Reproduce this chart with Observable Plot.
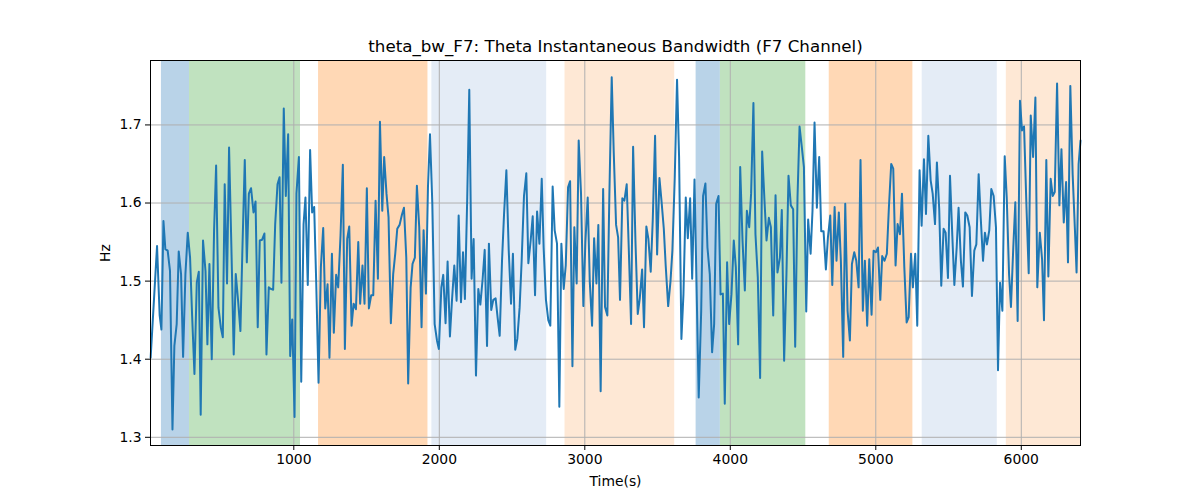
<!DOCTYPE html>
<html>
<head>
<meta charset="utf-8">
<script src="https://cdn.jsdelivr.net/npm/d3@7"></script>
<script src="https://cdn.jsdelivr.net/npm/@observablehq/plot@0.6"></script>
<style>
  html, body { margin: 0; padding: 0; background: #ffffff; }
  #chart { width: 1200px; height: 500px; }
</style>
</head>
<body>
<div id="chart"></div>
<script>
const title = "theta_bw_F7: Theta Instantaneous Bandwidth (F7 Channel)";
const xLabel = "Time(s)";
const yLabel = "Hz";
const xTicks = [1000, 2000, 3000, 4000, 5000, 6000];
const yTicks = [1.3, 1.4, 1.5, 1.6, 1.7];

const times = [
  16, 60, 78, 90, 104, 117, 133, 149, 166, 179, 195, 209, 225, 239, 255, 271, 287, 301, 317, 333,
  347, 360, 376, 393, 406, 420, 436, 452, 466, 482, 498, 512, 525, 541, 555, 571, 587, 601, 617, 633,
  647, 663, 677, 691, 706, 723, 737, 752, 766, 782, 798, 812, 828,
  842, 858, 872, 888, 902, 915, 931, 945, 961, 975, 989, 1005, 1018, 1035, 1051, 1067, 1080, 1096, 1112, 1126,
  1140, 1154, 1170, 1186, 1202, 1216, 1232, 1245, 1262, 1275, 1291, 1305, 1321, 1337, 1351, 1367, 1381, 1397, 1411, 1427,
  1443, 1456, 1472, 1486, 1502, 1516, 1532, 1546, 1562, 1578, 1592, 1608, 1621,
  1637, 1651, 1667, 1683, 1697, 1711, 1727, 1743, 1757, 1773, 1786, 1803, 1816, 1832, 1846, 1862, 1878, 1892, 1908, 1922,
  1936, 1952, 1968, 1984, 1997, 2014, 2027, 2043, 2057, 2073, 2087, 2103, 2119, 2133, 2149, 2163, 2176, 2192, 2206, 2222,
  2236, 2252, 2268, 2282, 2298, 2312, 2328, 2341, 2357, 2371, 2387, 2401, 2415, 2431,
  2445, 2461, 2477, 2493, 2506, 2522, 2536, 2552, 2566, 2582, 2598, 2612, 2628, 2642, 2658, 2672, 2688, 2704, 2717, 2733,
  2749, 2763, 2779, 2793, 2809, 2825, 2839, 2855, 2869, 2885, 2899, 2915, 2928, 2944, 2958, 2974, 2990, 3004, 3020, 3034,
  3050, 3064, 3080, 3093, 3109, 3126, 3139, 3155, 3169, 3185, 3199, 3215, 3229, 3242,
  3258, 3272, 3288, 3302, 3318, 3332, 3348, 3364, 3378, 3394, 3407, 3423, 3437, 3453, 3467, 3483, 3497, 3513, 3527, 3543,
  3556, 3573, 3589, 3602, 3618, 3634, 3648, 3664, 3678, 3694, 3708, 3724, 3738, 3754, 3770, 3783, 3800, 3813, 3829, 3843,
  3859, 3875, 3889, 3903, 3919, 3933, 3949, 3962, 3978, 3992, 4008, 4024, 4038,
  4054, 4068, 4084, 4100, 4114, 4130, 4143, 4159, 4173, 4189, 4205, 4219, 4235, 4249, 4265, 4279, 4295, 4311, 4324, 4341,
  4354, 4370, 4386, 4400, 4416, 4432, 4446, 4462, 4476, 4492, 4506, 4522, 4535, 4552, 4565, 4579, 4595, 4611, 4625, 4641,
  4657, 4671, 4687, 4701, 4717, 4730, 4746, 4760, 4776, 4790, 4806, 4822, 4836, 4852,
  4866, 4882, 4895, 4911, 4925, 4941, 4955, 4971, 4985, 5001, 5015, 5031, 5044, 5060, 5076, 5090, 5106, 5120, 5136, 5150,
  5166, 5180, 5196, 5212, 5226, 5242, 5255, 5271, 5285, 5301, 5315, 5331, 5345, 5361, 5377, 5391, 5407, 5420, 5436, 5450,
  5466, 5480, 5496, 5510, 5526, 5540, 5556, 5569, 5585, 5599, 5615, 5629, 5645,
  5661, 5677, 5691, 5707, 5721, 5737, 5750, 5764, 5780, 5794, 5810, 5826, 5840, 5854, 5870, 5886, 5900, 5916, 5929, 5945,
  5959, 5975, 5991, 6005, 6019, 6035, 6051, 6065, 6081, 6097, 6110, 6127, 6143, 6156, 6172, 6186, 6202, 6216, 6230, 6246,
  6262, 6276, 6292, 6308, 6321, 6337, 6353, 6368, 6380, 6394, 6407
];

const values = [
  1.402, 1.545, 1.456, 1.438, 1.577, 1.541, 1.539, 1.513, 1.310, 1.417, 1.445, 1.538, 1.509, 1.403, 1.509, 1.562, 1.530, 1.456, 1.381, 1.498,
  1.512, 1.329, 1.552, 1.513, 1.419, 1.522, 1.400, 1.565, 1.648, 1.466, 1.441, 1.428, 1.624, 1.497, 1.671, 1.543, 1.406, 1.509, 1.475, 1.436,
  1.543, 1.655, 1.524, 1.612, 1.619, 1.588, 1.602, 1.441, 1.552, 1.553, 1.561, 1.406, 1.492,
  1.490, 1.489, 1.573, 1.624, 1.633, 1.498, 1.721, 1.609, 1.688, 1.404, 1.451, 1.326, 1.612, 1.659, 1.371, 1.573, 1.607, 1.495, 1.668, 1.588,
  1.595, 1.498, 1.370, 1.518, 1.568, 1.465, 1.496, 1.402, 1.535, 1.434, 1.508, 1.492, 1.558, 1.649, 1.413, 1.554, 1.570, 1.443, 1.471, 1.464,
  1.550, 1.471, 1.520, 1.471, 1.619, 1.465, 1.482, 1.482, 1.603, 1.503, 1.704, 1.590, 1.659,
  1.612, 1.582, 1.446, 1.509, 1.535, 1.567, 1.572, 1.585, 1.594, 1.530, 1.369, 1.492, 1.522, 1.530, 1.622, 1.569, 1.441, 1.565, 1.484, 1.620,
  1.688, 1.599, 1.445, 1.424, 1.413, 1.492, 1.508, 1.446, 1.525, 1.429, 1.475, 1.520, 1.475, 1.584, 1.473, 1.537, 1.477, 1.607, 1.745, 1.503,
  1.554, 1.379, 1.490, 1.470, 1.503, 1.540, 1.417, 1.548, 1.463, 1.476, 1.478, 1.453, 1.430, 1.526,
  1.586, 1.642, 1.540, 1.471, 1.535, 1.412, 1.426, 1.466, 1.526, 1.609, 1.638, 1.523, 1.552, 1.583, 1.482, 1.589, 1.548, 1.631, 1.543, 1.476,
  1.450, 1.443, 1.621, 1.565, 1.548, 1.339, 1.548, 1.490, 1.520, 1.620, 1.628, 1.391, 1.569, 1.497, 1.680, 1.612, 1.468, 1.550, 1.607, 1.500,
  1.443, 1.555, 1.497, 1.572, 1.359, 1.618, 1.467, 1.456, 1.612, 1.761, 1.664, 1.572, 1.556, 1.476,
  1.606, 1.603, 1.624, 1.543, 1.445, 1.672, 1.552, 1.458, 1.478, 1.515, 1.441, 1.570, 1.554, 1.512, 1.578, 1.686, 1.534, 1.632, 1.603, 1.567,
  1.520, 1.468, 1.500, 1.539, 1.631, 1.758, 1.659, 1.426, 1.483, 1.607, 1.555, 1.606, 1.503, 1.630, 1.475, 1.351, 1.462, 1.609, 1.625, 1.543,
  1.509, 1.409, 1.445, 1.599, 1.609, 1.483, 1.484, 1.343, 1.524, 1.445, 1.483, 1.552, 1.518,
  1.419, 1.646, 1.552, 1.488, 1.590, 1.569, 1.612, 1.728, 1.560, 1.505, 1.376, 1.666, 1.603, 1.552, 1.581, 1.569, 1.456, 1.610, 1.511, 1.530,
  1.591, 1.398, 1.509, 1.635, 1.597, 1.592, 1.416, 1.607, 1.698, 1.671, 1.646, 1.461, 1.579, 1.535, 1.590, 1.703, 1.594, 1.659, 1.564, 1.564,
  1.515, 1.556, 1.584, 1.495, 1.595, 1.526, 1.588, 1.526, 1.403, 1.599, 1.462, 1.424, 1.522, 1.537,
  1.526, 1.492, 1.655, 1.462, 1.526, 1.443, 1.528, 1.457, 1.539, 1.537, 1.543, 1.476, 1.532, 1.526, 1.535, 1.594, 1.650, 1.644, 1.520, 1.573,
  1.560, 1.612, 1.518, 1.447, 1.454, 1.535, 1.492, 1.535, 1.443, 1.642, 1.571, 1.656, 1.586, 1.686, 1.629, 1.612, 1.573, 1.652, 1.592, 1.494,
  1.567, 1.562, 1.504, 1.635, 1.558, 1.495, 1.543, 1.594, 1.526, 1.493, 1.588, 1.584, 1.569,
  1.481, 1.539, 1.547, 1.637, 1.582, 1.526, 1.562, 1.547, 1.565, 1.618, 1.609, 1.569, 1.386, 1.498, 1.462, 1.660, 1.607, 1.509, 1.467, 1.543,
  1.601, 1.449, 1.731, 1.693, 1.698, 1.599, 1.510, 1.712, 1.659, 1.735, 1.492, 1.562, 1.528, 1.450, 1.655, 1.506, 1.631, 1.609, 1.614, 1.753,
  1.597, 1.669, 1.575, 1.627, 1.524, 1.750, 1.637, 1.569, 1.511, 1.650, 1.680
];

const bandStart = [90, 283, 1170, 1949, 2864, 3765, 3932, 4680, 5319, 5897];
const bandEnd   = [283, 1046, 1922, 2738, 3618, 3932, 4519, 5255, 5835, 6407];
const bandKind  = ["A", "B", "C", "D", "E", "A", "B", "C", "D", "E"];

const series = times.map((t, i) => ({t, v: values[i]}));
const bands = bandStart.map((s, i) => ({start: s, end: bandEnd[i], kind: bandKind[i]}));

const chart = Plot.plot({
  width: 1200,
  height: 500,
  marginLeft: 150,
  marginRight: 120,
  marginTop: 60,
  marginBottom: 55,
  style: {fontFamily: "'DejaVu Sans', sans-serif", fontSize: "13.9px", color: "black", background: "white", overflow: "visible"},
  x: {domain: [15, 6407]},
  y: {domain: [1.2895, 1.7825]},
  color: {domain: ["A", "B", "C", "D", "E"], range: ["#b9d3e8", "#c0e2bf", "#ffd8b5", "#e4ecf6", "#fee8d5"]},
  marks: [
    Plot.rect(bands, {x1: "start", x2: "end", fill: "kind"}),
    Plot.gridX(xTicks, {stroke: "#b0b0b0", strokeOpacity: 1, strokeWidth: 1}),
    Plot.gridY(yTicks, {stroke: "#b0b0b0", strokeOpacity: 1, strokeWidth: 1}),
    Plot.line(series, {x: "t", y: "v", stroke: "#1f77b4", strokeWidth: 2}),
    Plot.frame({stroke: "black", strokeWidth: 1}),
    Plot.axisX(xTicks, {tickSize: 5, tickPadding: 4, tickFormat: d => String(d), label: xLabel, labelAnchor: "center", labelArrow: "none", labelOffset: 40, fontSize: 13.9}),
    Plot.axisY(yTicks, {tickSize: 5, tickPadding: 4, tickFormat: d => d.toFixed(1), label: yLabel, labelAnchor: "center", labelArrow: "none", labelOffset: 50, fontSize: 13.9}),
    Plot.text([title], {frameAnchor: "top", lineAnchor: "bottom", dy: -9, fontSize: 16.7, fill: "black"})
  ]
});
document.getElementById("chart").appendChild(chart);
</script>
</body>
</html>
